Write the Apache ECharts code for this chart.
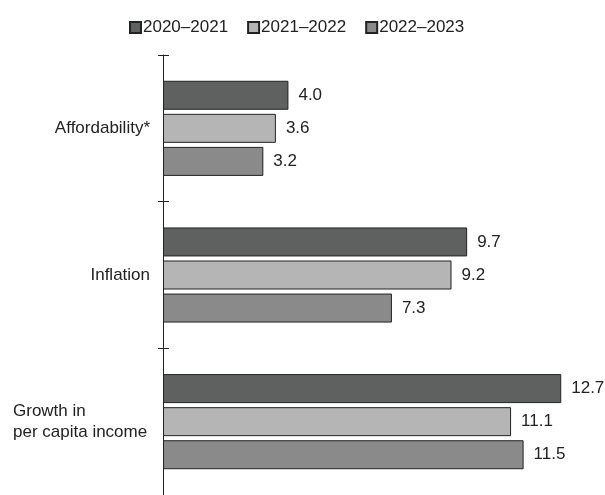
<!DOCTYPE html>
<html>
<head>
<meta charset="utf-8">
<script src="https://cdn.jsdelivr.net/npm/echarts@6/dist/echarts.min.js"></script>
<style>html,body{margin:0;padding:0;background:#fff}#c{width:605px;height:495px}</style>
</head>
<body>
<div id="c"></div>
<script>
const categories = ['Affordability*', 'Inflation', 'Growth in per capita income'];
const seriesNames = ['2020–2021', '2021–2022', '2022–2023'];
const values2020 = [4.0, 9.7, 12.7];
const values2021 = [3.6, 9.2, 11.1];
const values2022 = [3.2, 7.3, 11.5];
const colors = ['#5f6160', '#b5b5b5', '#8a8a8a'];

const font = 'Liberation Sans, Arial, sans-serif';
const chart = echarts.init(document.getElementById('c'), null, {renderer: 'canvas'});
const allValues = [values2020, values2021, values2022];

chart.setOption({
  animation: false,
  backgroundColor: '#fff',
  legend: {
    top: 14,
    left: 124,
    itemWidth: 11,
    itemHeight: 11,
    itemGap: 19,
    icon: 'rect',
    textStyle: {fontFamily: font, fontSize: 17, color: '#222', padding: [0, 0, 0, -3]},
    data: seriesNames
  },
  grid: {left: 163, top: 55, width: 439, height: 444, containLabel: false},
  xAxis: {type: 'value', min: 0, max: 14, show: false},
  yAxis: [{
    type: 'category',
    inverse: true,
    data: categories,
    axisLine: {show: true, lineStyle: {color: '#222', width: 1}},
    axisTick: {show: true, length: 5, lineStyle: {color: '#222'}},
    axisLabel: {
      margin: 13,
      fontFamily: font,
      fontSize: 17,
      color: '#222',
      lineHeight: 21,
      formatter: function (v) {
        if (v === 'Growth in per capita income') return '{g|Growth in}\n{g|per capita income}';
        return v;
      },
      rich: {g: {width: 137, align: 'left', fontFamily: font, fontSize: 17, color: '#222', lineHeight: 21}}
    }
  }, {
    type: 'category',
    inverse: true,
    position: 'left',
    data: categories,
    axisLine: {show: false},
    axisTick: {show: true, inside: true, length: 6, lineStyle: {color: '#222'}},
    axisLabel: {show: false}
  }],
  series: seriesNames.map((name, i) => ({
    name: name,
    type: 'bar',
    yAxisIndex: 0,
    data: allValues[i],
    barWidth: 29,
    barGap: '14%',
    itemStyle: {color: colors[i], borderColor: '#222', borderWidth: 1},
    label: {
      show: true,
      position: 'right',
      distance: 10,
      fontFamily: font,
      fontSize: 17,
      color: '#222',
      formatter: p => p.value.toFixed(1)
    }
  }))
});
</script>
</body>
</html>
